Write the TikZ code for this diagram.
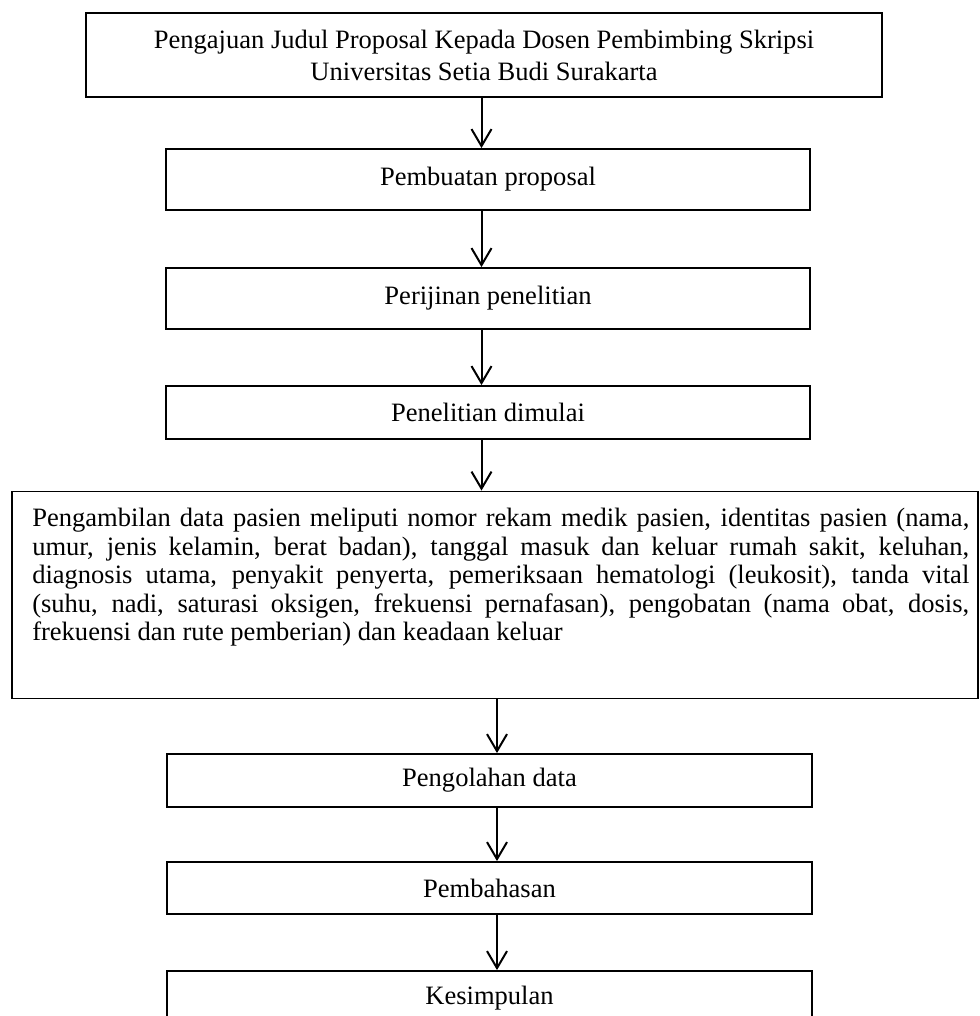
\documentclass[tikz,border=0pt]{standalone}
\usepackage{fontspec}
\setmainfont{Liberation Serif}
\usetikzlibrary{arrows.meta}
\begin{document}
\begin{tikzpicture}[x=0.75pt,y=-0.75pt,
  box/.style={draw,line width=1.4pt,inner sep=0pt,align=center,
    font=\fontsize{19.9}{24}\selectfont},
  smallbox/.style={box,minimum width=483pt},
  lowbox/.style={box,minimum width=483.75pt},
  arr/.style={line width=1.5pt,-{Straight Barb[length=12.75pt,width=15pt,line width=1.5pt]}}]
\useasboundingbox (0,0) rectangle (979,1016);
\coordinate (ax) at (481.5,0);
\coordinate (bx) at (497,0);
\node[box,minimum width=597pt,minimum height=63pt] (b1) at (484,55)
  {Pengajuan Judul Proposal Kepada Dosen Pembimbing Skripsi\\Universitas Setia Budi Surakarta};
\node[smallbox,minimum height=45.75pt] (b2) at (488,179.5) {Pembuatan proposal};
\node[smallbox,minimum height=45.75pt] (b3) at (488,298.5) {Perijinan penelitian};
\node[smallbox,minimum height=39.75pt] (b4) at (488,412.5) {Penelitian dimulai};
\node[draw,line width=1.4pt,inner sep=0pt,minimum width=724.5pt,minimum height=155.25pt] (b5) at (495,595) {};
\node[anchor=north west,inner sep=0pt,align=left,font=\fontsize{19.9}{21.4}\selectfont] (t5) at (32,508)
  {\makebox[702.75pt][s]{Pengambilan data pasien meliputi nomor rekam medik pasien, identitas pasien (nama,}\\
   \makebox[702.75pt][s]{umur, jenis kelamin, berat badan), tanggal masuk dan keluar rumah sakit, keluhan,}\\
   \makebox[702.75pt][s]{diagnosis utama, penyakit penyerta, pemeriksaan hematologi (leukosit), tanda vital}\\
   \makebox[702.75pt][s]{(suhu, nadi, saturasi oksigen, frekuensi pernafasan), pengobatan (nama obat, dosis,}\\
   frekuensi dan rute pemberian) dan keadaan keluar};
\node[lowbox,minimum height=39.75pt] (b6) at (489.5,780.5) {Pengolahan data};
\node[lowbox,minimum height=39pt] (b7) at (489.5,888) {Pembahasan};
\node[lowbox,minimum height=40.5pt] (b8) at (489.5,998) {Kesimpulan};
\draw[arr] (b1.south -| ax) -- (b2.north -| ax);
\draw[arr] (b2.south -| ax) -- (b3.north -| ax);
\draw[arr] (b3.south -| ax) -- (b4.north -| ax);
\draw[arr] (b4.south -| ax) -- (b5.north -| ax);
\draw[arr] (b5.south -| bx) -- (b6.north -| bx);
\draw[arr] (b6.south -| bx) -- (b7.north -| bx);
\draw[arr] (b7.south -| bx) -- (b8.north -| bx);
\end{tikzpicture}
\end{document}
